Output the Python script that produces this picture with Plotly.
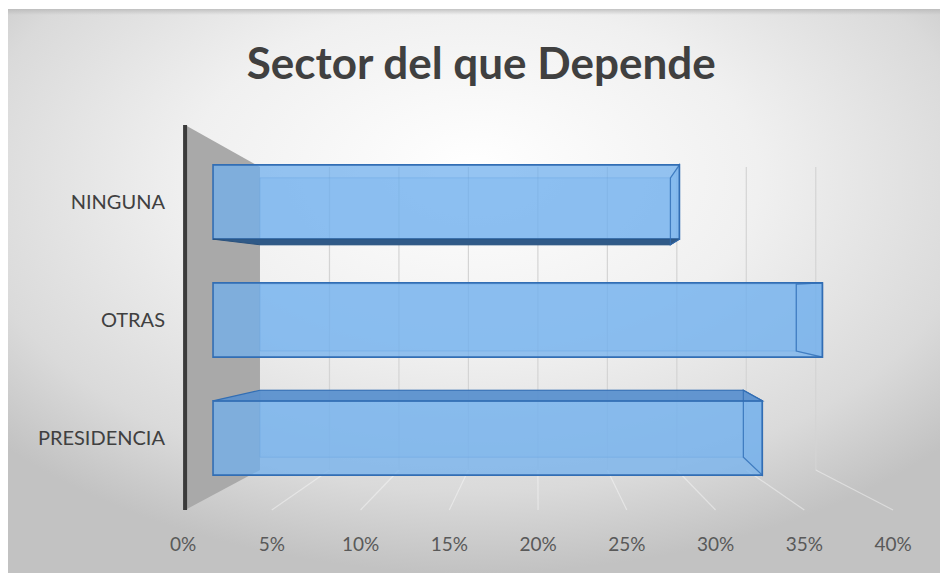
import base64
import plotly.graph_objects as go

# ---- data -------------------------------------------------------------
categories = ["PRESIDENCIA", "OTRAS", "NINGUNA"]
shares = [0.338, 0.375, 0.287]
tick_values = [0.0, 0.05, 0.10, 0.15, 0.20, 0.25, 0.30, 0.35, 0.40]
tick_labels = ["0%", "5%", "10%", "15%", "20%", "25%", "30%", "35%", "40%"]
title_text = "Sector del que Depende"

# ---- 3-D projection constants (in bar-axis / category units) ----------
X_RANGE = [-0.0234, 0.4258]          # bar axis (front face of the bars)
Y_RANGE = [-0.6525, 2.7373]          # category axis
FRONT_OFF, FRONT_SCALE = -0.01846, 1.0923   # floor front edge (labelled axis)
BACK_OFF = 0.0289                     # back wall plane, value 0
BAR_DEPTH = 0.88                      # shrink of the bar back faces
WALL_SCALE = 0.855                    # shrink of the back-wall grid
Y_C, K_Y = 1.21, 0.90                 # vertical vanishing for bar backs
WALL_LEFT = -0.0172
WALL_TOP_FRONT, WALL_TOP_BACK = 2.653, 2.297
FLOOR_BACK, FLOOR_FRONT = -0.271, -0.61
HALF = 0.315

LABEL_RANGE = [(u - FRONT_OFF) / FRONT_SCALE for u in X_RANGE]
FONT = "Lato"


def yb(y):
    return Y_C + K_Y * (y - Y_C)


def poly(pts):
    return "M " + " L ".join(f"{x},{y}" for x, y in pts) + " Z"


# ---- background: soft radial gradient panel ---------------------------
W, H = 940, 573
ML, MR, MT, MB = 175, 35, 115, 58
svg = f"""<svg xmlns='http://www.w3.org/2000/svg' width='{W}' height='{H}' viewBox='0 0 {W} {H}' preserveAspectRatio='none'>
<defs><radialGradient id='g' cx='50%' cy='32%' r='68%' fx='50%' fy='28%'>
<stop offset='0' stop-color='#ffffff'/><stop offset='0.45' stop-color='#f0f0f0'/>
<stop offset='0.8' stop-color='#dadada'/><stop offset='1' stop-color='#c2c2c2'/></radialGradient>
<linearGradient id='t' x1='0' y1='0' x2='0' y2='1'><stop offset='0' stop-color='#b8b8b8' stop-opacity='0.8'/>
<stop offset='1' stop-color='#b8b8b8' stop-opacity='0'/></linearGradient></defs>
<rect width='{W}' height='{H}' fill='#ffffff'/>
<rect x='8' y='9' width='{W - 8}' height='{H - 9}' fill='url(#g)'/>
<rect x='8' y='9' width='{W - 8}' height='6' fill='url(#t)'/>
</svg>"""
bg_src = "data:image/svg+xml;base64," + base64.b64encode(svg.encode()).decode()
pw, ph = W - ML - MR, H - MT - MB

fig = go.Figure()

fig.add_trace(go.Bar(
    x=shares, y=categories, orientation="h", width=2 * HALF,
    marker=dict(color="rgba(112,176,238,0.74)",
                line=dict(color="rgb(50,110,180)", width=1.6)),
    xaxis="x", yaxis="y", hoverinfo="skip", showlegend=False,
))

shapes = []
# back wall
shapes.append(dict(type="path", xref="x", yref="y", layer="below",
                   path=poly([(WALL_LEFT, WALL_TOP_FRONT), (BACK_OFF, WALL_TOP_BACK),
                              (BACK_OFF, FLOOR_BACK), (WALL_LEFT, FLOOR_FRONT)]),
                   fillcolor="#a9a9a9", line=dict(width=0)))
# back-wall gridlines and floor lines
for t in tick_values[1:]:
    xb = BACK_OFF + WALL_SCALE * t
    xf = FRONT_OFF + FRONT_SCALE * t
    shapes.append(dict(type="line", xref="x", yref="y", layer="below",
                       x0=xb, x1=xb, y0=FLOOR_BACK, y1=WALL_TOP_BACK,
                       line=dict(color="rgb(212,212,212)", width=1.2)))
    shapes.append(dict(type="line", xref="x", yref="y", layer="below",
                       x0=xb, x1=xf, y0=FLOOR_BACK, y1=FLOOR_FRONT,
                       line=dict(color="rgba(250,250,250,0.45)", width=1.2)))
# vertical axis line at the wall front
shapes.append(dict(type="line", xref="x", yref="y", layer="above",
                   x0=WALL_LEFT, x1=WALL_LEFT, y0=FLOOR_FRONT, y1=WALL_TOP_FRONT,
                   line=dict(color="#3b3b3b", width=4)))

edge = "rgb(50,110,180)"
for i, v in enumerate(shares):
    y0, y1 = i - HALF, i + HALF
    bx0, bx1 = BACK_OFF, BACK_OFF + BAR_DEPTH * v
    by0, by1 = yb(y0), yb(y1)
    # back face (seen through the translucent front)
    shapes.append(dict(type="rect", xref="x", yref="y", layer="below",
                       x0=bx0, x1=bx1, y0=by0, y1=by1,
                       fillcolor="rgba(120,185,245,0.25)",
                       line=dict(color="rgba(50,110,180,0.35)", width=1)))
    # right end face
    shapes.append(dict(type="path", xref="x", yref="y", layer="below",
                       path=poly([(v, y0), (v, y1), (bx1, by1), (bx1, by0)]),
                       fillcolor="rgba(110,170,232,0.35)",
                       line=dict(color="rgba(50,110,180,0.6)", width=1.2)))
    # bottom face when it shows below the bar
    if by0 < y0:
        shapes.append(dict(type="path", xref="x", yref="y", layer="above",
                           path=poly([(0, y0), (v, y0), (bx1, by0), (bx0, by0)]),
                           fillcolor="rgb(48,90,136)",
                           line=dict(color="rgb(42,82,126)", width=1)))
    # top face when it shows above the bar
    if by1 > y1:
        shapes.append(dict(type="path", xref="x", yref="y", layer="above",
                           path=poly([(0, y1), (bx0, by1), (bx1, by1), (v, y1)]),
                           fillcolor="rgba(86,142,205,0.9)",
                           line=dict(color=edge, width=1.2)))
    # right end outline drawn on top
    shapes.append(dict(type="path", xref="x", yref="y", layer="above",
                       path=poly([(v, y0), (v, y1), (bx1, by1), (bx1, by0)]),
                       fillcolor="rgba(0,0,0,0)",
                       line=dict(color="rgba(50,110,180,0.75)", width=1.2)))

fig.update_layout(
    width=W, height=H,
    margin=dict(l=ML, r=MR, t=MT, b=MB, pad=0),
    paper_bgcolor="white", plot_bgcolor="rgba(0,0,0,0)",
    images=[dict(source=bg_src, xref="paper", yref="paper",
                 x=-ML / pw, y=1 + MT / ph, sizex=W / pw, sizey=H / ph,
                 xanchor="left", yanchor="top", sizing="stretch", layer="below")],
    title=dict(text=f"<b>{title_text}</b>", x=0.512, xref="container",
               y=1 - 64 / H, yref="container", xanchor="center", yanchor="middle",
               font=dict(family=FONT, size=44, color="#404040")),
    xaxis=dict(range=X_RANGE, visible=False, showgrid=False, zeroline=False),
    xaxis2=dict(range=LABEL_RANGE, overlaying="x", side="bottom", anchor="y",
                tickvals=tick_values, ticktext=tick_labels, showgrid=False,
                zeroline=False, showline=False, ticks="", ticklabelstandoff=16,
                tickfont=dict(family=FONT, size=19, color="#595959")),
    yaxis=dict(range=Y_RANGE, type="category", categoryorder="array",
               categoryarray=categories, showgrid=False, zeroline=False,
               showline=False, ticks="", ticklabelstandoff=9,
               tickfont=dict(family=FONT, size=20, color="#404040")),
    shapes=shapes,
    showlegend=False,
)

# empty trace so the labelled axis is drawn
fig.add_trace(go.Scatter(x=[tick_values[0], tick_values[-1]], y=[categories[0], categories[0]],
                         xaxis="x2", yaxis="y", mode="markers",
                         marker=dict(opacity=0), hoverinfo="skip", showlegend=False))

fig.write_html("out.html")
